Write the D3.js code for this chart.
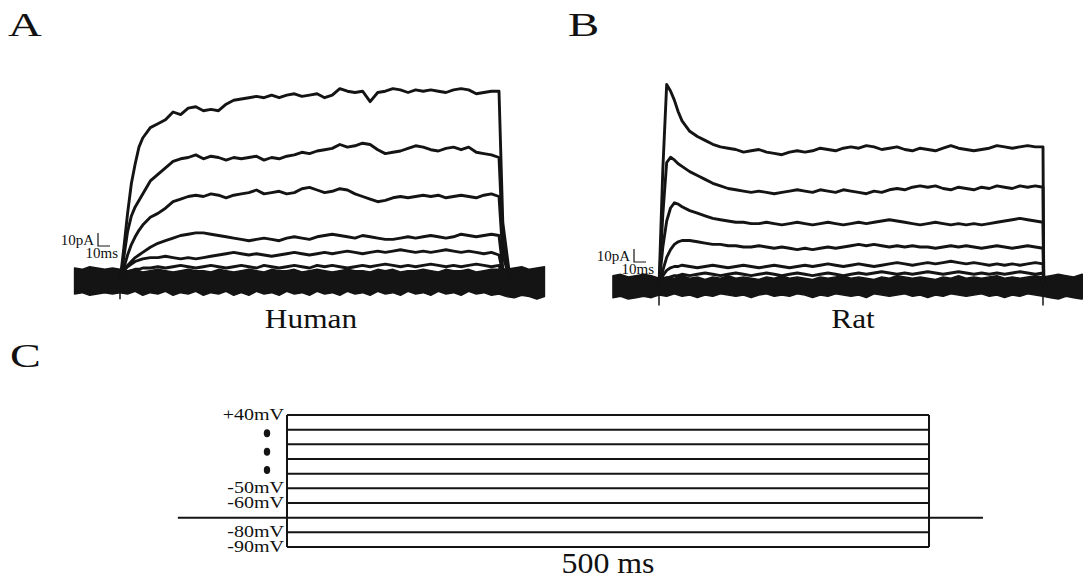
<!DOCTYPE html>
<html>
<head>
<meta charset="utf-8">
<script src="https://cdn.jsdelivr.net/npm/d3@7"></script>
<style>
  body { margin: 0; background: #fff; }
  svg text { font-family: "Liberation Serif", "Times New Roman", serif; fill: #111; }
</style>
</head>
<body>
<svg id="fig" width="1083" height="579"></svg>
<script>
// ---- DATA (ms / pA) ----

// sample times of the step traces (ms from step onset), last two are the tail after the step
const TIME_A = [0,5,10,15,20,25,30,40,50,60,70,80,90,100,110,120,130,140,150,160,170,180,190,200,210,220,
  230,240,250,260,270,280,290,300,310,320,330,340,350,360,370,380,390,400,410,420,430,440,450,460,470,480,490,500,505,515];
const TIME_B = [0,5,10,15,20,25,30,40,50,60,70,80,90,100,110,120,130,140,150,160,170,180,190,200,210,220,
  230,240,250,260,270,280,290,300,310,320,330,340,350,360,370,380,390,400,410,420,430,440,450,460,470,480,490,500,501,506];

// human currents (pA), largest to smallest
const humanTrace1 = [0,25,52,75,90,103, 110,118,121,124,130,128,133,134,131,132, 131,136,139,140,141,142,141,143,141,143,
  144,142,143,144,141,143,148,146,145,146, 138,145,146,148,147,145,147,146,147,146, 145,147,148,147,144,145,146,146, 45,0];
const humanTrace2 = [0,18,38,50,57,62, 67,77,82,87,92,94,95,97,94,96, 95,93,95,94,95,96,93,95,94,96,
  97,99,98,100,101,102,105,103,104,106, 105,101,98,99,100,102,104,103,101,100, 102,103,101,103,99,98,97,95, 30,0];
const humanTrace3 = [0,10,20,28,34,39, 43,49,52,56,61,63,65,66,65,67, 66,64,66,67,68,70,67,68,69,67,
  68,71,72,70,68,69,71,70,67,65, 63,61,62,64,65,64,65,66,65,66, 64,65,66,65,64,66,67,65, 20,0];
const humanTrace4 = [0,8,12,15,18,20, 22,26,29,31,33,35,36,37,37,36, 35,34,33,32,31,32,33,32,31,33,
  34,33,32,34,35,36,35,34,33,35, 34,33,32,32,33,34,33,34,35,34, 33,34,36,35,34,35,36,35, 10,0];
const humanTrace5 = [0,8,11,13,15,16, 17,18,18,19,18,17,18,17,18,19, 20,21,22,21,20,21,20,19,20,21,
  22,21,20,21,22,21,22,23,22,21, 22,23,22,23,24,23,22,23,22,23, 24,23,22,23,22,21,22,20, 6,0];
const humanTrace6 = [0,5,7,8,9,9, 10,10,11,10,11,12,11,10,11,12, 11,10,11,12,11,10,12,11,10,11,
  12,11,10,12,11,12,11,10,11,12, 11,12,13,12,11,12,11,12,13,12, 11,12,11,12,13,12,11,12, 3,0];

// rat currents (pA)
const ratTrace1 = [0,90,155,150,143,134, 127,119,115,112,109,107,106,105,103,104, 105,103,102,101,103,104,103,104,106,105,
  104,106,107,106,108,107,105,106,107,105, 104,106,105,104,106,108,106,105,104,105, 106,108,107,106,107,108,107,107, 0,0];
const ratTrace2 = [0,55,95,99,97,94, 92,88,85,82,79,77,75,74,73,72, 73,72,71,72,73,74,73,72,74,73,
  72,74,73,72,71,73,72,74,75,74, 76,77,76,77,75,74,76,75,74,76, 75,77,76,75,77,76,77,76, 0,0];
const ratTrace3 = [0,30,50,60,64,63, 61,58,56,54,52,51,50,49,49,48, 48,49,48,47,48,49,48,47,48,49,
  48,47,48,49,48,49,50,51,50,49, 48,47,48,49,48,47,48,47,48,47, 48,49,50,51,52,51,50,49, 0,0];
const ratTrace4 = [0,12,22,28,32,34, 35,35,34,33,32,32,31,31,30,30, 31,30,29,30,29,28,29,28,29,30,
  29,30,31,32,31,32,31,30,31,30, 31,30,30,29,30,31,30,31,30,29, 30,31,30,29,30,31,30,29, 0,0];
const ratTrace5 = [0,8,12,14,15,15, 16,15,14,15,16,15,14,15,16,15, 14,15,16,15,14,15,16,15,16,17,
  16,15,16,17,16,15,16,17,18,17, 16,17,18,17,18,19,18,17,18,17, 16,17,16,17,16,17,18,17, 0,0];
const ratTrace6 = [0,4,6,7,8,8, 9,8,9,10,9,8,9,10,9,8, 9,10,9,8,9,10,9,8,9,10,
  9,8,9,10,9,10,11,10,9,10, 9,10,11,10,9,10,11,10,9,10, 9,10,9,10,11,10,9,10, 0,0];

// baseline noise envelope (pA), sampled every 10 ms from -60 to 560 ms
const BAND_T = d3.range(-60, 561, 10);
const humanBandUpper = [10,9,11,10,9,10,
  9,8,9,7,8,9,8,7,8,9,8,8,7,9,8,7,8,9,8,7,9,8,8,9,7,8,9,8,7,8,9,8,8,7,9,8,9,7,8,8,9,8,7,9,8,8,9,7,8,9,9,
  9,10,11,9,10,11];
const humanBandLower = [-10,-9,-11,-10,-9,-10,
  -9,-10,-8,-11,-9,-10,-8,-11,-9,-10,-8,-11,-9,-10,-8,-11,-9,-11,-8,-10,-9,-11,-8,-10,-9,-11,-8,-10,-9,-11,-8,-10,-9,-11,-8,-10,-9,-11,-8,-10,-9,-11,-8,-10,-9,-11,-8,-10,-9,-11,-10,
  -12,-13,-11,-12,-14,-12];
const ratBandUpper = [8,9,7,8,9,8,
  6,7,6,8,6,7,5,7,6,8,6,7,6,5,7,6,8,6,7,6,5,7,6,7,8,6,7,6,5,7,6,8,7,6,7,6,5,7,6,8,6,7,6,7,8,6,7,6,7,8,7,
  8,9,8,7,9,8];
const ratBandLower = [-9,-8,-10,-9,-8,-9,
  -7,-8,-6,-8,-7,-9,-7,-8,-6,-7,-8,-7,-9,-7,-6,-8,-7,-8,-6,-7,-9,-7,-8,-6,-7,-8,-7,-9,-6,-7,-8,-7,-6,-8,-7,-9,-7,-8,-6,-7,-8,-7,-6,-8,-7,-9,-7,-8,-6,-7,-8,
  -9,-10,-8,-9,-10,-9];

// capacitive transients (time ms, peak pA)
const humanTransients = [[0, -14]];
const ratTransients = [[0, -15], [500, -15]];

// voltage protocol (panel C)
const STEP_LABELS = ["+40mV", "", "", "", "", "-50mV", "-60mV", null, "-80mV", "-90mV"]; // null = holding level
const HOLD_ROW = 7;
const DOT_ROWS = [1.25, 2.5, 3.75];
const STEP_MS = [0, 500];
const HOLD_MS = [-85, 542];

// ---- DRAWING ----
const svg = d3.select("#fig");
svg.append("rect").attr("width", 1083).attr("height", 579).attr("fill", "#fff");

const INK = "#141414";

// stretched serif text helper (the figure's lettering is a bit wide)
function label(g, txt, x, y, size, sx, anchor) {
  return g.append("text")
    .attr("transform", "translate(" + x + "," + y + ") scale(" + sx + ",1)")
    .attr("text-anchor", anchor || "start")
    .attr("font-size", size)
    .text(txt);
}

function drawPanel(cfg) {
  const g = svg.append("g");
  const x = d3.scaleLinear().domain([0, 500]).range(cfg.xRange);
  const y = d3.scaleLinear().domain([0, 10]).range([cfg.y0, cfg.y0 - 13]);

  // baseline noise band
  const area = d3.area()
    .x((d, i) => x(BAND_T[i]))
    .y0((d, i) => y(cfg.lower[i]))
    .y1((d) => y(d))
    .curve(d3.curveLinear);
  g.append("path")
    .datum(cfg.upper)
    .attr("d", area)
    .attr("fill", INK)
    .attr("stroke", INK)
    .attr("stroke-width", 1.4)
    .attr("stroke-linejoin", "round");

  // transients
  g.selectAll("line.tr")
    .data(cfg.transients)
    .enter().append("line")
    .attr("x1", (d) => x(d[0])).attr("x2", (d) => x(d[0]))
    .attr("y1", y(0)).attr("y2", (d) => y(d[1]))
    .attr("stroke", INK).attr("stroke-width", 1.5);

  // current traces
  const line = d3.line()
    .x((d, i) => x(cfg.time[i]))
    .y((d) => y(d));
  cfg.traces.forEach((tr) => {
    if (tr.length !== cfg.time.length) console.warn("length mismatch", tr.length);
    g.append("path")
      .datum(tr)
      .attr("d", line)
      .attr("fill", "none")
      .attr("stroke", INK)
      .attr("stroke-width", 2.9)
      .attr("stroke-linejoin", "round");
  });

  // scale bar (10 pA vertical, 10 ms horizontal)
  const sb = cfg.scaleBar;
  const barH = y(0) - y(10);
  g.append("path")
    .attr("d", "M" + sb.x + "," + (sb.y - barH) + "V" + sb.y + "H" + (sb.x + 12))
    .attr("fill", "none").attr("stroke", INK).attr("stroke-width", 1.2);
  label(g, "10pA", sb.x - 4, sb.y - 1, 15, 1, "end");
  label(g, "10ms", sb.x + 20, sb.y + 12, 15, 1, "end");

  // species name and panel letter
  label(g, cfg.name, cfg.nameX, 328, 28, 1.12, "middle");
  label(g, cfg.letter, cfg.letterX, 36, 33, 1.42, "start");
}

drawPanel({
  letter: "A", letterX: 8, name: "Human", nameX: 311,
  xRange: [120, 499], y0: 281, time: TIME_A,
  traces: [humanTrace1, humanTrace2, humanTrace3, humanTrace4, humanTrace5, humanTrace6],
  upper: humanBandUpper, lower: humanBandLower, transients: humanTransients,
  scaleBar: { x: 98, y: 246 }
});

drawPanel({
  letter: "B", letterX: 568, name: "Rat", nameX: 853,
  xRange: [659, 1043], y0: 286, time: TIME_B,
  traces: [ratTrace1, ratTrace2, ratTrace3, ratTrace4, ratTrace5, ratTrace6],
  upper: ratBandUpper, lower: ratBandLower, transients: ratTransients,
  scaleBar: { x: 634, y: 262 }
});

// ---- panel C: voltage protocol ----
const gC = svg.append("g");
const xC = d3.scaleLinear().domain([0, 500]).range([287, 929]);
const yC = d3.scaleLinear().domain([0, STEP_LABELS.length - 1]).range([415, 547]);

label(gC, "C", 10, 367, 33, 1.4, "start");

const rows = d3.range(STEP_LABELS.length).filter((i) => i !== HOLD_ROW);
gC.selectAll("line.step")
  .data(rows)
  .enter().append("line")
  .attr("x1", xC(STEP_MS[0])).attr("x2", xC(STEP_MS[1]))
  .attr("y1", (d) => yC(d)).attr("y2", (d) => yC(d))
  .attr("stroke", INK).attr("stroke-width", 2);

// box sides
gC.selectAll("line.side")
  .data(STEP_MS)
  .enter().append("line")
  .attr("x1", (d) => xC(d)).attr("x2", (d) => xC(d))
  .attr("y1", yC(0)).attr("y2", yC(STEP_LABELS.length - 1))
  .attr("stroke", INK).attr("stroke-width", 2);

// holding potential line
gC.append("line")
  .attr("x1", xC(HOLD_MS[0])).attr("x2", xC(HOLD_MS[1]))
  .attr("y1", yC(HOLD_ROW)).attr("y2", yC(HOLD_ROW))
  .attr("stroke", INK).attr("stroke-width", 2);

STEP_LABELS.forEach((t, i) => {
  if (t) label(gC, t, 284, yC(i) + 5, 16, 1.25, "end");
});

gC.selectAll("ellipse")
  .data(DOT_ROWS)
  .enter().append("ellipse")
  .attr("cx", 267).attr("cy", (d) => yC(d))
  .attr("rx", 3.2).attr("ry", 4)
  .attr("fill", INK);

label(gC, "500 ms", (xC(0) + xC(500)) / 2, 573, 29, 1.1, "middle");
</script>
</body>
</html>
